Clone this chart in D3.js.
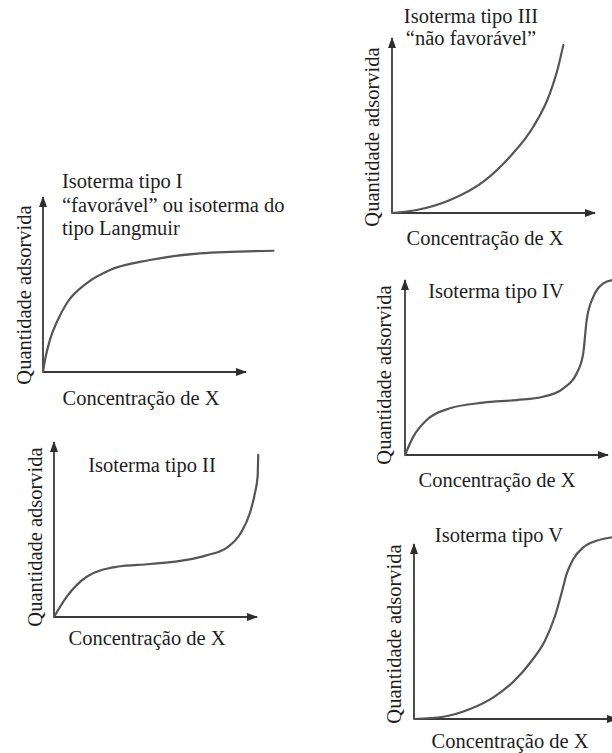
<!DOCTYPE html>
<html>
<head>
<meta charset="utf-8">
<script src="https://cdn.jsdelivr.net/npm/d3@7"></script>
<style>
  html, body { margin: 0; padding: 0; background: #fff; }
  svg { display: block; }
  text { font-family: "Liberation Serif", "DejaVu Serif", serif; fill: #1e1e1e; }
</style>
</head>
<body>
<div id="chart"></div>
<script>
// axis text, shared by every panel
const yLabel = "Quantidade adsorvida";
const xLabel = "Concentração de X";

// titles of the five isotherms
const titlesI = ["Isoterma tipo I", "\u201cfavorável\u201d ou isoterma do", "tipo Langmuir"];
const titlesII = ["Isoterma tipo II"];
const titlesIII = ["Isoterma tipo III", "\u201cnão favorável\u201d"];
const titlesIV = ["Isoterma tipo IV"];
const titlesV = ["Isoterma tipo V"];

// curve points: x = concentration, y = amount adsorbed (axis length = 10 units)
const curveI = [[0, 0], [0.1, 0.7], [0.34, 1.83], [0.7, 2.9], [1.17, 3.93], [2.15, 5.07], [3.3, 5.83],
  [5.27, 6.4], [7.73, 6.78], [11.35, 6.93]];
const curveII = [[0, 0], [0.63, 1.16], [1.61, 2.3], [3.09, 2.87], [4.73, 3.03], [6.54, 3.26],
  [7.5, 3.52], [8.5, 3.95], [9.2, 4.8], [9.65, 5.94], [9.9, 7.09], [10.03, 8.02], [10.06, 9.26]];
const curveIII = [[0, 0], [1.22, 0.17], [2.86, 0.74], [4.5, 1.79], [5.81, 3.22], [6.96, 4.93],
  [7.78, 6.84], [8.19, 8.36], [8.44, 9.6]];
const curveIV = [[0, 0], [0.41, 1.05], [1.07, 2.0], [2.22, 2.67], [3.86, 2.99], [5.5, 3.14],
  [6.81, 3.33], [7.8, 3.81], [8.46, 4.67], [8.78, 5.81], [8.95, 7.71], [9.28, 9.05], [9.77, 9.81],
  [10.2, 10.0], [10.7, 10.05]];
const curveV = [[0, 0], [1.44, 0.13], [2.76, 0.57], [3.91, 1.24], [4.89, 2.13], [5.8, 3.33],
  [6.45, 4.47], [6.95, 5.9], [7.28, 7.24], [7.52, 8.29], [7.85, 9.14], [8.34, 9.81], [9.0, 10.19],
  [9.75, 10.38], [10.4, 10.45]];

const width = 612, height = 753;
const axisW = 203, axisH = 175;

// layout of each panel: origin of the axes, title placement and label offsets
const panels = [
  {curve: curveI, titles: titlesI, ox: 43, oy: 372, tx: 62, ty: 188, tdy: 23.5, anchor: "start",
    xl: [98, 33], yl: [-12, -77]},
  {curve: curveII, titles: titlesII, ox: 54, oy: 617, tx: 152, ty: 472, tdy: 22, anchor: "middle",
    xl: [93, 28], yl: [-12, -80]},
  {curve: curveIII, titles: titlesIII, ox: 392, oy: 213, tx: 471, ty: 23, tdy: 22, anchor: "middle",
    xl: [93, 32], yl: [-13, -76]},
  {curve: curveIV, titles: titlesIV, ox: 405, oy: 455, tx: 496, ty: 298, tdy: 22, anchor: "middle",
    xl: [92, 32], yl: [-14, -80]},
  {curve: curveV, titles: titlesV, ox: 414, oy: 719, tx: 499, ty: 542, tdy: 22, anchor: "middle",
    xl: [96, 29], yl: [-13, -85]}
];

const svg = d3.select('#chart')
    .append('svg')
    .attr('width', width)
    .attr('height', height);

svg.append('defs').append('marker')
    .attr('id', 'arrow')
    .attr('markerUnits', 'userSpaceOnUse')
    .attr('viewBox', '0 -5 11 10')
    .attr('refX', 10)
    .attr('refY', 0)
    .attr('markerWidth', 11)
    .attr('markerHeight', 10)
    .attr('orient', 'auto')
    .append('path')
    .attr('d', 'M0,-4L11,0L0,4Z')
    .attr('fill', '#2e2e2e');

const x = d3.scaleLinear().domain([0, 10]).range([0, axisW]);
const y = d3.scaleLinear().domain([0, 10]).range([0, -axisH]);

const line = d3.line()
    .x(d => x(d[0]))
    .y(d => y(d[1]))
    .curve(d3.curveMonotoneX);

panels.forEach(p => {
    const g = svg.append('g')
        .attr('transform', `translate(${p.ox},${p.oy})`);

    // axes with arrow heads
    g.append('line')
        .attr('x1', x(0)).attr('y1', y(0))
        .attr('x2', x(0)).attr('y2', y(10))
        .attr('stroke', '#3a3a3a')
        .attr('stroke-width', 1.8)
        .attr('marker-end', 'url(#arrow)');

    g.append('line')
        .attr('x1', x(0)).attr('y1', y(0))
        .attr('x2', x(10)).attr('y2', y(0))
        .attr('stroke', '#3a3a3a')
        .attr('stroke-width', 1.8)
        .attr('marker-end', 'url(#arrow)');

    // isotherm curve
    g.append('path')
        .datum(p.curve)
        .attr('fill', 'none')
        .attr('stroke', '#555')
        .attr('stroke-width', 2.2)
        .attr('stroke-linecap', 'round')
        .attr('d', line);

    // axis labels
    g.append('text')
        .attr('x', p.xl[0])
        .attr('y', p.xl[1])
        .attr('text-anchor', 'middle')
        .style('font-size', '20.5px')
        .text(xLabel);

    g.append('text')
        .attr('transform', `translate(${p.yl[0]},${p.yl[1]}) rotate(-90)`)
        .attr('text-anchor', 'middle')
        .style('font-size', '20.5px')
        .text(yLabel);

    // title
    p.titles.forEach((t, i) => {
        svg.append('text')
            .attr('x', p.tx)
            .attr('y', p.ty + i * p.tdy)
            .attr('text-anchor', p.anchor)
            .style('font-size', '20.5px')
            .text(t);
    });
});
</script>
</body>
</html>
